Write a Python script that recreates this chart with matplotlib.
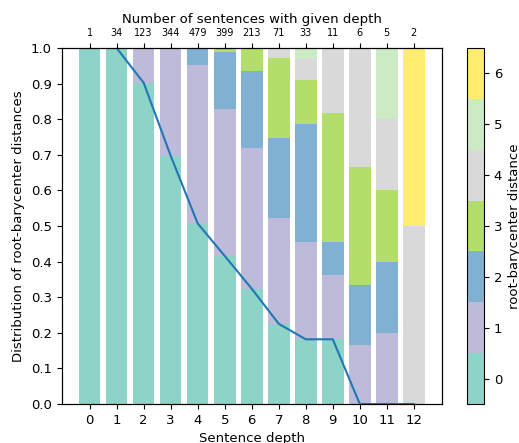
import matplotlib
matplotlib.use("Agg")
import matplotlib.pyplot as plt
import numpy as np

# sentence depth 0..12
depths = np.arange(13)
n_sentences = [1, 34, 123, 344, 479, 399, 213, 71, 33, 11, 6, 5, 2]

# number of sentences per root-barycenter distance, for each depth
dist0 = [1, 34, 111, 240, 243, 166, 69, 16, 6, 2, 0, 0, 0]
dist1 = [0, 0, 12, 104, 213, 165, 84, 21, 9, 2, 1, 1, 0]
dist2 = [0, 0, 0, 0, 23, 63, 46, 16, 11, 1, 1, 1, 0]
dist3 = [0, 0, 0, 0, 0, 5, 14, 16, 4, 4, 2, 1, 0]
dist4 = [0, 0, 0, 0, 0, 0, 0, 2, 2, 2, 2, 1, 1]
dist5 = [0, 0, 0, 0, 0, 0, 0, 0, 1, 0, 0, 1, 0]
dist6 = [0, 0, 0, 0, 0, 0, 0, 0, 0, 0, 0, 0, 1]

counts = np.array([dist0, dist1, dist2, dist3, dist4, dist5, dist6], dtype=float)
frac = counts / np.array(n_sentences, dtype=float)

plt.rcParams["font.size"] = 9.5

cmap = plt.get_cmap("Set3", 7)
norm = matplotlib.colors.Normalize(vmin=-0.5, vmax=6.5)

fig = plt.figure(figsize=(5.19, 4.43), dpi=100)
ax = fig.add_axes([0.1185, 0.088, 0.7330, 0.8036])

bottom = np.zeros(len(depths))
for d in range(frac.shape[0]):
    ax.bar(depths, frac[d], bottom=bottom, color=cmap(d), width=0.8)
    bottom += frac[d]

# share of distance 0
ax.plot(depths[1:], frac[0][1:], color="#1f77b4", zorder=3)

ax.set_ylim(0, 1)
ax.set_yticks(np.arange(0, 1.01, 0.1))
ax.set_xticks(depths)
ax.set_xlabel("Sentence depth")
ax.set_ylabel("Distribution of root-barycenter distances")

ax_top = ax.twiny()
ax_top.set_xlim(ax.get_xlim())
ax_top.set_xticks(depths)
ax_top.set_xticklabels([str(n) for n in n_sentences], fontsize=7)
ax_top.set_xlabel("Number of sentences with given depth", labelpad=4)

cax = fig.add_axes([0.9, 0.088, 0.0328, 0.8036])
sm = matplotlib.cm.ScalarMappable(cmap=cmap, norm=norm)
cb = fig.colorbar(sm, cax=cax, ticks=range(7))
cb.set_label("root-barycenter distance")

fig.savefig("out.png", dpi=100)
